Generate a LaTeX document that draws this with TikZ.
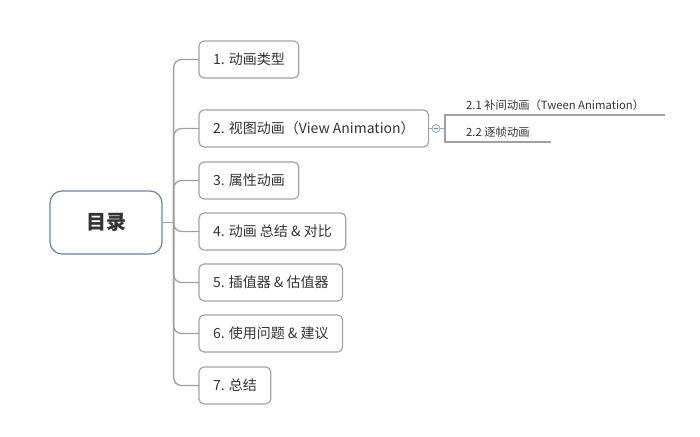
\documentclass[tikz,border=0pt]{standalone}
\usepackage{fontspec}
\setmainfont{Noto Sans CJK SC}
\usetikzlibrary{positioning}
\definecolor{boxline}{HTML}{A8A29C}
\definecolor{rootline}{HTML}{6B82A8}
\definecolor{txt}{HTML}{333333}
\definecolor{stem}{HTML}{A0A0A0}

\begin{document}
\begin{tikzpicture} [x=1pt,y=-1pt,
  root/.style={draw=rootline,line width=1.2pt,rounded corners=12pt,minimum width=112pt,minimum height=63pt,text=txt,font=\fontsize{20}{24}\selectfont\bfseries},
  topic/.style={draw=boxline,line width=1.2pt,rounded corners=5pt,minimum height=37pt,inner xsep=14pt,outer sep=0pt,text=txt,font=\fontsize{14}{16}\selectfont},
  subtopic/.style={inner xsep=21pt,inner ysep=4pt,text=txt,font=\fontsize{11.3}{13}\selectfont},
  collapse/.style={draw=rootline!70,fill=rootline!10,circle,line width=0.8pt,minimum size=8pt,inner sep=0pt},
  branch/.style={draw=stem,line width=1.3pt,rounded corners=8pt}]
\useasboundingbox (0,0) rectangle (700,436);
\node[root] (root) at (106,222.5) {目录};
\node[topic,anchor=north west] (t1) at (199,41) {1. 动画类型};
\node[topic,below right=32pt and 0pt of t1.south west] (t2) {2. 视图动画（View Animation）};
\node[topic,below right=15pt and 0pt of t2.south west] (t3) {3. 属性动画};
\node[topic,below right=14pt and 0pt of t3.south west] (t4) {4. 动画 总结 \& 对比};
\node[topic,below right=14pt and 0pt of t4.south west] (t5) {5. 插值器 \& 估值器};
\node[topic,below right=14pt and 0pt of t5.south west] (t6) {6. 使用问题 \& 建议};
\node[topic,below right=15pt and 0pt of t6.south west] (t7) {7. 总结};
\coordinate[right=11pt of root.east] (hub);
\draw[branch] (root.east) -- (hub);
\foreach \t in {t1,t2,t3,t4,t5,t6,t7}
  \draw[branch] (hub) |- (\t.west);

% sub topics of 2
\node[collapse,right=3pt of t2] (c2) {};
\draw[rootline,line width=0.8pt] ([xshift=-2pt]c2.center) -- ([xshift=2pt]c2.center);
\draw[stem,line width=0.8pt] (t2.east) -- (c2.west);
\node[subtopic,anchor=south west] (s1) at (445,115) {2.1 补间动画（Tween Animation）};
\node[subtopic,anchor=south west] (s2) at (445,142) {2.2 逐帧动画};
\draw[stem,line width=1.3pt] (c2.east) -- (c2.east -| s1.south west);
\draw[stem,line width=1.3pt] (s1.south east) -- (s1.south west) -- (s2.south west) -- (s2.south east);
\end{tikzpicture}
\end{document}
